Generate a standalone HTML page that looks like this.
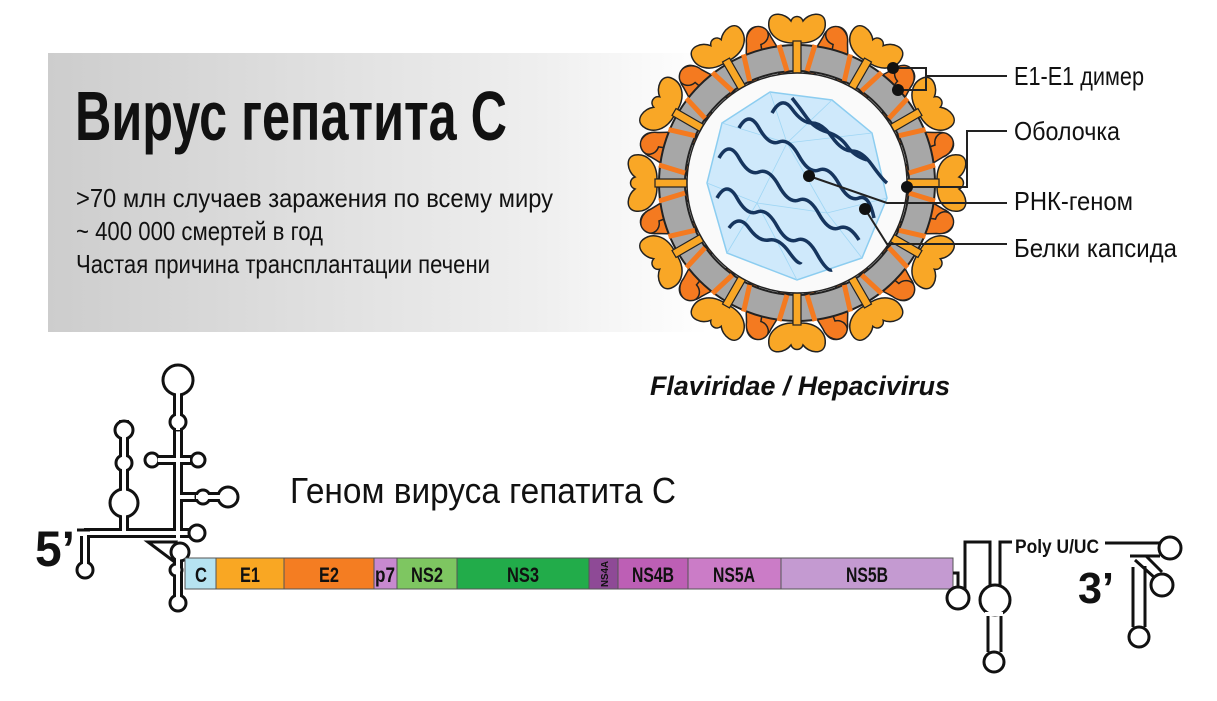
<!DOCTYPE html>
<html><head><meta charset="utf-8"><style>
html,body{margin:0;padding:0;background:#fff;width:1217px;height:701px;overflow:hidden}
svg{display:block}
text{font-family:"Liberation Sans",sans-serif;fill:#111}
</style></head><body>
<svg width="1217" height="701" viewBox="0 0 1217 701" xmlns="http://www.w3.org/2000/svg">
<defs>
<linearGradient id="pg" x1="0" x2="1" y1="0" y2="0">
<stop offset="0" stop-color="#cdcdcd"/><stop offset="0.75" stop-color="#efefef"/><stop offset="1" stop-color="#ffffff"/>
</linearGradient>
<g id="spike">
<path d="M-16,-108 C-26,-114 -34,-126 -38,-138 C-46,-136 -54,-144 -48,-152 C-42,-160 -30,-156 -26,-146 C-20,-136 -12,-124 -6,-112 Z" fill="#f47a20" stroke="#222" stroke-width="1.5"/>
<path d="M16,-108 C26,-114 34,-126 38,-138 C46,-136 54,-144 48,-152 C42,-160 30,-156 26,-146 C20,-136 12,-124 6,-112 Z" fill="#f47a20" stroke="#222" stroke-width="1.5"/>
<path d="M-4,-112 L-4,-140 C-20,-140 -30,-150 -28,-162 C-26,-172 -12,-170 -6,-162 C-4,-168 4,-168 6,-162 C12,-170 26,-172 28,-162 C30,-150 20,-140 4,-140 L4,-112 Z" fill="#f9a726" stroke="#222" stroke-width="1.5"/>
</g>
<g id="stem">
<rect x="-4" y="-142" width="8" height="32" fill="#f9a726" stroke="#222" stroke-width="1.2"/>
<path d="M-10,-112 L-18,-138" stroke="#f47a20" stroke-width="5"/>
<path d="M10,-112 L18,-138" stroke="#f47a20" stroke-width="5"/>
</g>
</defs>
<rect x="48" y="53" width="660" height="279" fill="url(#pg)"/>

<text x="75" y="140" font-size="70" font-weight="bold" textLength="432" lengthAdjust="spacingAndGlyphs">Вирус гепатита С</text>
<text x="76" y="207" font-size="26" textLength="477" lengthAdjust="spacingAndGlyphs">&gt;70 млн случаев заражения по всему миру</text>
<text x="76" y="240" font-size="26" textLength="247" lengthAdjust="spacingAndGlyphs">~ 400 000 смертей в год</text>
<text x="76" y="273" font-size="26" textLength="414" lengthAdjust="spacingAndGlyphs">Частая причина трансплантации печени</text>

<!-- virus -->
<g transform="translate(797,183)">
<g>
<use href="#spike" transform="rotate(0)"/><use href="#spike" transform="rotate(30)"/><use href="#spike" transform="rotate(60)"/><use href="#spike" transform="rotate(90)"/><use href="#spike" transform="rotate(120)"/><use href="#spike" transform="rotate(150)"/><use href="#spike" transform="rotate(180)"/><use href="#spike" transform="rotate(210)"/><use href="#spike" transform="rotate(240)"/><use href="#spike" transform="rotate(270)"/><use href="#spike" transform="rotate(300)"/><use href="#spike" transform="rotate(330)"/>
</g>
<circle r="125" fill="none" stroke="#222" stroke-width="28"/>
<circle r="125" fill="none" stroke="#a7a7a7" stroke-width="24"/>
<g>
<use href="#stem" transform="rotate(0)"/><use href="#stem" transform="rotate(30)"/><use href="#stem" transform="rotate(60)"/><use href="#stem" transform="rotate(90)"/><use href="#stem" transform="rotate(120)"/><use href="#stem" transform="rotate(150)"/><use href="#stem" transform="rotate(180)"/><use href="#stem" transform="rotate(210)"/><use href="#stem" transform="rotate(240)"/><use href="#stem" transform="rotate(270)"/><use href="#stem" transform="rotate(300)"/><use href="#stem" transform="rotate(330)"/>
</g>
<circle r="110" fill="#fafafa" stroke="#222" stroke-width="1.5"/>
<polygon points="-27,-91 35,-83 75,-50 90,15 65,75 0,97 -70,70 -90,0 -75,-60" fill="#cfe9fb" stroke="#8ccdf0" stroke-width="1.5"/>
<g stroke="#9fd6f4" stroke-width="0.8" fill="none">
<path d="M-27,-91 L-10,-40 L35,-83 M-10,-40 L75,-50 M-10,-40 L-75,-60 M-10,-40 L-40,20 L-90,0 M-40,20 L0,97 M-40,20 L30,30 L90,15 M30,30 L65,75 M30,30 L-10,-40 M-40,20 L-70,70"/>
</g>
<g stroke="#16355e" stroke-width="3.5" fill="none">
<path d="M-58,-55 q10,-18 20,0 t20,14 t20,14 t20,14 t20,14 t20,14 t15,20"/>
<path d="M-25,-70 q10,-18 20,-4 t20,14 t20,14 t20,14 t20,14 t15,18"/>
<path d="M-78,-25 q10,-18 20,0 t20,14 t20,14 t20,14 t20,14 t20,14 t20,12"/>
<path d="M-80,15 q10,-18 20,0 t20,14 t20,14 t20,14 t20,14 t15,16"/>
<path d="M-68,45 q10,-14 20,0 t20,12 t20,12 t12,10"/>
<path d="M-5,-85 q8,10 15,20 t20,14 t20,14 t20,14"/>
</g>
</g>
<!-- label pointers -->
<g stroke="#222" stroke-width="2" fill="none">
<path d="M893,68 H926 V90 H898 M926,76 H1007"/>
<path d="M907,187 H967 V131 H1007"/>
<path d="M809,176 L887,203 H1007"/>
<path d="M865,209 L887,244 H1007"/>
</g>
<g fill="#111"><circle cx="893" cy="68" r="6"/><circle cx="898" cy="90" r="6"/><circle cx="907" cy="187" r="6"/><circle cx="809" cy="176" r="6"/><circle cx="865" cy="209" r="6"/></g>
<text x="1014" y="85" font-size="26" textLength="130" lengthAdjust="spacingAndGlyphs">E1-E1 димер</text>
<text x="1014" y="140" font-size="26" textLength="106" lengthAdjust="spacingAndGlyphs">Оболочка</text>
<text x="1014" y="210" font-size="26" textLength="119" lengthAdjust="spacingAndGlyphs">РНК-геном</text>
<text x="1014" y="257" font-size="26" textLength="163" lengthAdjust="spacingAndGlyphs">Белки капсида</text>
<text x="650" y="395" font-size="27" font-weight="bold" font-style="italic" textLength="300" lengthAdjust="spacingAndGlyphs">Flaviridae / Hepacivirus</text>
<text x="290" y="503" font-size="36" textLength="386" lengthAdjust="spacingAndGlyphs">Геном вируса гепатита С</text>

<!-- 5' structure -->
<g fill="none" stroke-linecap="butt" stroke-linejoin="miter">
<g stroke="#111" stroke-width="10">
<path d="M178,395 V533 H124 V420 M124,533 H85 V565 M178,460 H155 M178,460 H195 M178,497 H222 M178,533 H196 M178,545 V597"/>
</g>
<g stroke="#fff" stroke-width="4">
<path d="M178,395 V533 H124 V420 M124,533 H85 V565 M178,460 H155 M178,460 H195 M178,497 H222 M178,533 H196 M178,545 V597"/>
</g>
<rect x="76" y="526" width="8" height="10" fill="#fff" stroke="none"/>
<path d="M77,530 H90" stroke="#111" stroke-width="3"/>
<path d="M148,542 H176 L172,560 Z" fill="#fff" stroke="#111" stroke-width="3"/>
<g fill="#fff" stroke="#111" stroke-width="3">
<circle cx="178" cy="380" r="15"/><circle cx="178" cy="422" r="8"/>
<circle cx="124" cy="430" r="9"/><circle cx="124" cy="463" r="8"/><circle cx="124" cy="503" r="14"/>
<circle cx="152" cy="460" r="7"/><circle cx="198" cy="460" r="7"/>
<circle cx="203" cy="497" r="7"/><circle cx="228" cy="497" r="10"/>
<circle cx="197" cy="533" r="8"/>
<circle cx="180" cy="552" r="9"/><circle cx="176" cy="570" r="6"/>
<circle cx="178" cy="603" r="8"/><circle cx="85" cy="570" r="8"/>
</g>
<g stroke="#fff" stroke-width="4">
<path d="M178,387 V430 M124,430 V520 M158,460 H190 M196,497 H222 M178,530 V540 M178,558 V598 M85,555 V566"/>
</g>
</g>
<text x="35" y="566" font-size="50" font-weight="bold" textLength="40" lengthAdjust="spacingAndGlyphs">5’</text>

<!-- genome bar -->
<g stroke="#555" stroke-width="1">
<rect x="185" y="558" width="31" height="31" fill="#b6e3f1"/>
<rect x="216" y="558" width="68" height="31" fill="#f9a723"/>
<rect x="284" y="558" width="90" height="31" fill="#f47d22"/>
<rect x="374" y="558" width="23" height="31" fill="#c889cf"/>
<rect x="397" y="558" width="60" height="31" fill="#7ec661"/>
<rect x="457" y="558" width="132" height="31" fill="#22ac4a"/>
<rect x="589" y="558" width="29" height="31" fill="#8e4a96"/>
<rect x="618" y="558" width="70" height="31" fill="#bd5fb5"/>
<rect x="688" y="558" width="93" height="31" fill="#cb7cc7"/>
<rect x="781" y="558" width="172" height="31" fill="#c49ad1"/>
</g>
<g font-size="21" font-weight="bold" text-anchor="middle">
<text x="201" y="582" textLength="12" lengthAdjust="spacingAndGlyphs">C</text>
<text x="250" y="582" textLength="20" lengthAdjust="spacingAndGlyphs">E1</text>
<text x="329" y="582" textLength="20" lengthAdjust="spacingAndGlyphs">E2</text>
<text x="385" y="582" textLength="20" lengthAdjust="spacingAndGlyphs">p7</text>
<text x="427" y="582" textLength="32" lengthAdjust="spacingAndGlyphs">NS2</text>
<text x="523" y="582" textLength="32" lengthAdjust="spacingAndGlyphs">NS3</text>
<text x="653" y="582" textLength="42" lengthAdjust="spacingAndGlyphs">NS4B</text>
<text x="734" y="582" textLength="42" lengthAdjust="spacingAndGlyphs">NS5A</text>
<text x="867" y="582" textLength="42" lengthAdjust="spacingAndGlyphs">NS5B</text>
</g>
<text transform="translate(608,574) rotate(-90)" font-size="10" font-weight="bold" text-anchor="middle" textLength="26" lengthAdjust="spacingAndGlyphs">NS4A</text>

<!-- 3' structure -->
<g fill="none" stroke="#111" stroke-width="3">
<path d="M953,573 H958 V598 M965,590 V542 H990 V585 M1000,585 V542 H1012"/>
<circle cx="958" cy="598" r="11" fill="#fff"/>
<circle cx="995" cy="600" r="15" fill="#fff"/>
<path d="M988,614 V652 M1001,614 V652"/>
<circle cx="994" cy="662" r="10" fill="#fff"/>
<path d="M1105,543 H1160 M1130,556 H1160"/>
<circle cx="1170" cy="548" r="11" fill="#fff"/>
<path d="M1135,560 L1155,578 M1146,556 L1162,572"/>
<circle cx="1162" cy="585" r="11" fill="#fff"/>
<path d="M1133,567 V627 M1145,566 V627"/>
<circle cx="1139" cy="637" r="10" fill="#fff"/>
</g>
<rect x="985" y="612" width="18" height="4" fill="#fff"/>
<text x="1015" y="553" font-size="19" font-weight="bold" textLength="84" lengthAdjust="spacingAndGlyphs">Poly U/UC</text>
<text x="1078" y="603" font-size="44" font-weight="bold" textLength="36" lengthAdjust="spacingAndGlyphs">3’</text>
</svg>
</body></html>
